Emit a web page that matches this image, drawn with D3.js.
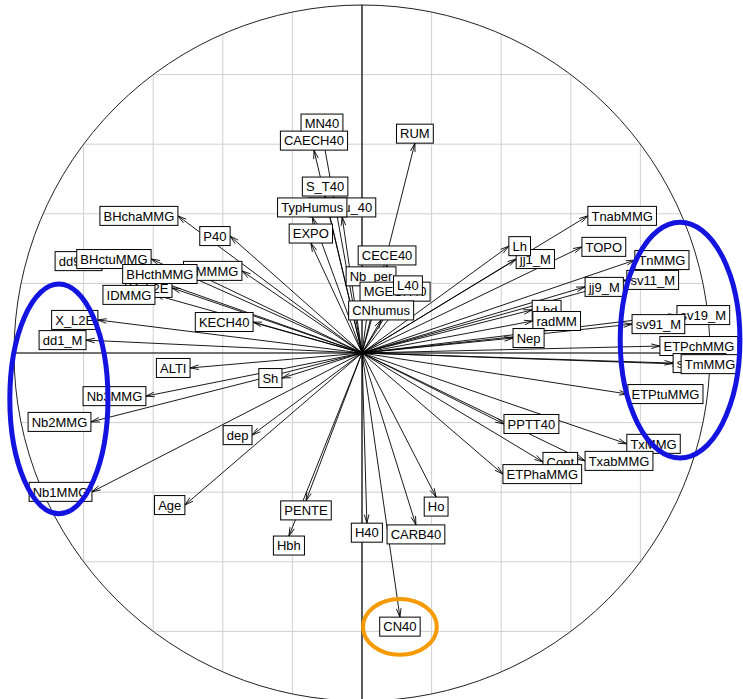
<!DOCTYPE html>
<html>
<head>
<meta charset="utf-8">
<script src="https://cdn.jsdelivr.net/npm/d3@7"></script>
<style>
  body { margin: 0; background: #fff; }
  svg { display: block; }
  text { font-family: "Liberation Sans", Arial, sans-serif; font-size: 13px; }
</style>
</head>
<body>
<svg id="chart" width="743" height="699"></svg>
<script>
// variable names and their coordinates on the correlation circle (axis 1, axis 2)
// order matters: later labels are drawn on top of earlier ones
let vars = ["MN40","CAECH40","RUM","S_T40","pHeau_40","TypHumus","EXPO","CECE40","Nb_per",
  "MGECH40","L40","CNhumus",
  "BHchaMMG","P40","dd9_M","BHctuMMG","PMMMG","Y_L2E","BHcthMMG","IDMMG","KECH40","X_L2E","dd1_M",
  "ALTI","Sh","Nb3MMG","Nb2MMG","dep","Nb1MMG","Age",
  "PENTE","Hbh","H40","CARB40","Ho","CN40",
  "TnabMMG","jj1_M","Lh","TOPO","TnMMG","sv11_M","jj9_M","Lhd","radMM","Nep","sv19_M","sv91_M",
  "ETPchMMG","sv99_M","TmMMG","ETPtuMMG","PPTT40","TxMMG","Cont","TxabMMG","ETPhaMMG"];

let axis1 = [-0.115,-0.138,0.152,-0.106,-0.057,-0.143,-0.147,0.072,0.026,
  0.095,0.132,0.055,
  -0.529,-0.379,-0.747,-0.606,-0.345,-0.546,-0.474,-0.595,-0.313,-0.759,-0.793,
  -0.494,-0.230,-0.621,-0.779,-0.316,-0.776,-0.509,
  -0.161,-0.210,0.014,0.155,0.213,0.109,
  0.649,0.443,0.422,0.632,0.784,0.761,0.641,0.489,0.491,0.434,0.905,0.776,
  0.856,0.894,0.917,0.764,0.408,0.761,0.520,0.641,0.405];

let axis2 = [0.632,0.583,0.603,0.451,0.391,0.391,0.316,0.253,0.193,
  0.149,0.167,0.095,
  0.394,0.336,0.264,0.270,0.236,0.187,0.227,0.167,0.089,0.095,0.037,
  -0.043,-0.072,-0.124,-0.198,-0.236,-0.399,-0.437,
  -0.425,-0.526,-0.489,-0.494,-0.414,-0.759,
  0.394,0.270,0.307,0.305,0.267,0.210,0.190,0.124,0.092,0.043,0.109,0.083,
  0.020,-0.029,-0.032,-0.118,-0.204,-0.261,-0.313,-0.310,-0.348];

let gridTicks = [-1,-0.8,-0.6,-0.4,-0.2,0,0.2,0.4,0.6,0.8,1];

// hand drawn highlight ellipses (centre x, centre y, radius x, radius y) in circle units
let highlightColors = ["#1414e0","#1414e0","#f59a00"];
let highlightWidths = [5,5,4];
let highlightCx = [-0.871,0.914,0.109];
let highlightCy = [-0.132,0.037,-0.787];
let highlightRx = [0.141,0.172,0.106];
let highlightRy = [0.330,0.339,0.080];

////------------------------------------
let cx = 362, cy = 353, R = 348;
let x = d3.scaleLinear().domain([-1,1]).range([cx - R, cx + R]);
let y = d3.scaleLinear().domain([-1,1]).range([cy + R, cy - R]);

let svg = d3.select("#chart");

svg.append("defs").append("clipPath").attr("id","circ")
  .append("circle").attr("cx", x(0)).attr("cy", y(0)).attr("r", x(1) - x(0));

let grid = svg.append("g").attr("clip-path","url(#circ)");
grid.selectAll("line.v").data(gridTicks).enter().append("line")
    .attr("x1", d => x(d)).attr("x2", d => x(d))
    .attr("y1", y(1)).attr("y2", y(-1))
    .style("stroke","#cfcfcf").style("stroke-width",1);
grid.selectAll("line.h").data(gridTicks).enter().append("line")
    .attr("y1", d => y(d)).attr("y2", d => y(d))
    .attr("x1", x(-1)).attr("x2", x(1))
    .style("stroke","#cfcfcf").style("stroke-width",1);

// axes
grid.append("line").attr("x1", x(0)).attr("x2", x(0)).attr("y1", y(1)).attr("y2", y(-1))
    .style("stroke","#000").style("stroke-width",1.2);
grid.append("line").attr("y1", y(0)).attr("y2", y(0)).attr("x1", x(-1)).attr("x2", x(1))
    .style("stroke","#000").style("stroke-width",1.2);

svg.append("circle").attr("cx", x(0)).attr("cy", y(0)).attr("r", x(1) - x(0))
    .style("fill","none").style("stroke","#222").style("stroke-width",1);

//--------------------------------------
// arrows from the origin
let data = vars.map((v, i) => ({ name: v, a: axis1[i], b: axis2[i] }));

let arrows = svg.append("g");
data.forEach(function(d){
  let x0 = x(0), y0 = y(0), x1 = x(d.a), y1 = y(d.b);
  arrows.append("line")
    .attr("x1", x0).attr("y1", y0).attr("x2", x1).attr("y2", y1)
    .style("stroke","#000").style("stroke-width",0.9);
  let ang = Math.atan2(y1 - y0, x1 - x0);
  let len = 9, spread = 15 * Math.PI / 180;
  let p = "M" + (x1 - len * Math.cos(ang - spread)) + "," + (y1 - len * Math.sin(ang - spread)) +
          "L" + x1 + "," + y1 +
          "L" + (x1 - len * Math.cos(ang + spread)) + "," + (y1 - len * Math.sin(ang + spread));
  arrows.append("path").attr("d", p)
    .style("fill","none").style("stroke","#000").style("stroke-width",0.9);
});

// labels in boxes, pushed away from the origin (like ade4 s.arrow)
let labels = svg.append("g");
let pad = 3.6, yh = 9.5;
data.forEach(function(d){
  let g = labels.append("g");
  let rect = g.append("rect");
  let t = g.append("text").text(d.name).attr("text-anchor","middle").attr("dy","0.36em").style("fill","#000");
  let w = t.node().getComputedTextLength() + 2 * pad;
  let px = x(d.a), py = y(d.b), tx, ty;
  if (d.a > d.b && d.a > -d.b) { tx = px + w / 2; ty = py; }
  else if (d.a > d.b && d.a <= -d.b) { tx = px; ty = py + yh; }
  else if (d.a <= d.b && d.a <= -d.b) { tx = px - w / 2; ty = py; }
  else { tx = px; ty = py - yh; }
  rect.attr("x", tx - w / 2).attr("y", ty - yh).attr("width", w).attr("height", 2 * yh)
    .style("fill","#fff").style("stroke","#000").style("stroke-width",1);
  t.attr("x", tx).attr("y", ty);
});

// highlight ellipses
svg.append("g").selectAll("ellipse").data(highlightCx).enter().append("ellipse")
  .attr("cx", d => x(d))
  .attr("cy", (d, i) => y(highlightCy[i]))
  .attr("rx", (d, i) => x(highlightRx[i]) - x(0))
  .attr("ry", (d, i) => y(0) - y(highlightRy[i]))
  .style("fill","none")
  .style("stroke", (d, i) => highlightColors[i])
  .style("stroke-width", (d, i) => highlightWidths[i]);
</script>
</body>
</html>
